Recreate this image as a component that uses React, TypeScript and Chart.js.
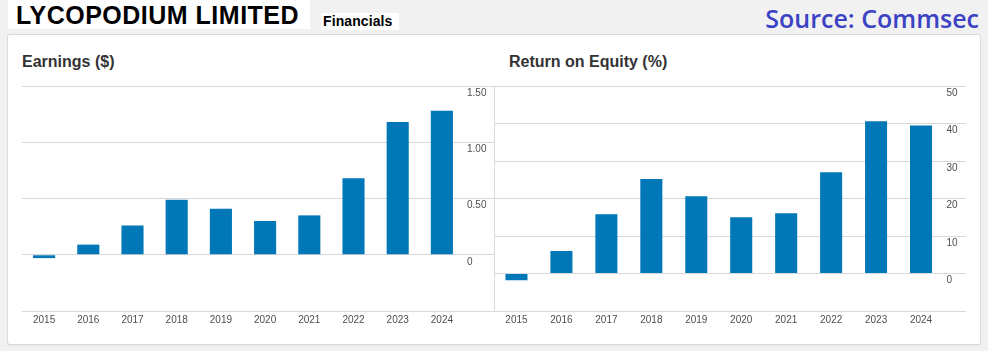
import React, { useEffect, useRef } from "react";
import { Chart, registerables } from "chart.js";
Chart.register(...registerables);

const years = ["2015", "2016", "2017", "2018", "2019", "2020", "2021", "2022", "2023", "2024"];
const earnings = [-0.03, 0.09, 0.26, 0.49, 0.41, 0.3, 0.35, 0.68, 1.18, 1.28];
const roe = [-1.8, 6.0, 15.8, 25.2, 20.6, 15.0, 16.1, 27.0, 40.6, 39.5];
const earningsAxis = { min: -0.5, max: 1.5, step: 0.5 };
const roeAxis = { min: -10, max: 50, step: 10 };

const FONT = '"Liberation Sans", Arial, Helvetica, sans-serif';
const BAR = "#0077b6";
const GRID = "#d9d9d9";
const TICK = "#4d4d4d";

function labelPlugin(fmt: (v: number) => string) {
  return {
    id: "rightLabels",
    afterDraw(chart: any) {
      const y = chart.scales.y;
      const ctx = chart.ctx;
      ctx.save();
      ctx.font = `10px ${FONT}`;
      ctx.fillStyle = TICK;
      ctx.textAlign = "left";
      ctx.textBaseline = "middle";
      y.ticks.forEach((t: any) => {
        if (Math.abs(t.value - y.min) < 1e-9) return;
        ctx.fillText(fmt(t.value), chart.chartArea.right + 3, y.getPixelForValue(t.value) + 7);
      });
      ctx.restore();
    },
  };
}

function BarChart(props: {
  data: number[];
  axis: { min: number; max: number; step: number };
  axisWidth: number;
  barPct: number;
  leftLine: boolean;
  padLeft: number;
  width: number;
  fmt: (v: number) => string;
}) {
  const ref = useRef<HTMLCanvasElement | null>(null);
  useEffect(() => {
    if (!ref.current) return;
    const { data, axis, axisWidth, barPct, leftLine, padLeft, fmt } = props;
    const chart = new Chart(ref.current, {
      type: "bar",
      data: {
        labels: years,
        datasets: [
          {
            data,
            backgroundColor: BAR,
            borderWidth: 0,
            categoryPercentage: 1,
            barPercentage: barPct,
          },
        ],
      },
      options: {
        animation: false,
        responsive: false,
        maintainAspectRatio: false,
        layout: { padding: { top: 10, bottom: 7, left: padLeft, right: 0 } },
        plugins: { legend: { display: false }, tooltip: { enabled: false }, title: { display: false } },
        scales: {
          x: {
            grid: {
              display: leftLine,
              offset: true,
              drawTicks: false,
              color: (c: any) => (c.index === 0 ? GRID : "rgba(0,0,0,0)"),
            },
            border: { display: false },
            ticks: {
              font: { family: FONT, size: 10 },
              color: TICK,
              padding: 3,
              maxRotation: 0,
              autoSkip: false,
            },
          },
          y: {
            position: "right",
            min: axis.min,
            max: axis.max,
            ticks: { stepSize: axis.step, display: false },
            grid: { color: GRID, drawTicks: true, tickLength: axisWidth },
            border: { display: false },
            afterFit(s: any) {
              s.width = axisWidth;
            },
          },
        },
      } as any,
      plugins: [labelPlugin(fmt)],
    });
    return () => chart.destroy();
  }, []);
  return <canvas ref={ref} width={props.width} height={260} style={{ display: "block" }} />;
}

export default function App() {
  useEffect(() => {
    document.body.style.margin = "0";
    document.body.style.background = "#f1f1f1";
  }, []);
  const abs = (s: React.CSSProperties): React.CSSProperties => ({ position: "absolute", ...s });
  return (
    <div style={{ position: "relative", width: 988, height: 351, background: "#f1f1f1", overflow: "hidden", fontFamily: FONT }}>
      <div style={abs({ left: 8, top: 0, width: 302, height: 29, background: "#fff" })} />
      <div
        style={abs({
          left: 16,
          top: 3,
          fontSize: 25,
          lineHeight: "24px",
          fontWeight: "bold",
          color: "#000",
          letterSpacing: "0.5px",
          whiteSpace: "nowrap",
        })}
      >
        LYCOPODIUM LIMITED
      </div>
      <div style={abs({ left: 321, top: 13, width: 78, height: 17, background: "#fff" })} />
      <div
        style={abs({
          left: 323,
          top: 15,
          fontSize: 14,
          lineHeight: "13px",
          fontWeight: "bold",
          color: "#000",
          letterSpacing: "0.1px",
          whiteSpace: "nowrap",
        })}
      >
        Financials
      </div>
      <div
        style={abs({
          right: 9,
          top: 3,
          fontFamily: '"Open Sans", sans-serif',
          fontSize: 25,
          fontWeight: 600,
          lineHeight: "30px",
          color: "#3c42c4",
          whiteSpace: "nowrap",
        })}
      >
        Source: Commsec
      </div>
      <div
        style={abs({
          left: 7,
          top: 34,
          width: 972,
          height: 309,
          background: "#fff",
          border: "1px solid #dadada",
          borderRadius: 3,
          boxShadow: "0 1px 1px rgba(0,0,0,0.05)",
        })}
      />
      <div style={abs({ left: 22, top: 54, fontSize: 16, lineHeight: "16px", fontWeight: "bold", color: "#333", whiteSpace: "nowrap" })}>
        Earnings ($)
      </div>
      <div style={abs({ left: 509, top: 54, fontSize: 16, lineHeight: "16px", fontWeight: "bold", color: "#333", whiteSpace: "nowrap" })}>
        Return on Equity (%)
      </div>
      <div style={abs({ left: 22, top: 76 })}>
        <BarChart
          data={earnings}
          axis={earningsAxis}
          axisWidth={30}
          barPct={0.5}
          leftLine={false}
          padLeft={0}
          width={472}
          fmt={(v) => (Math.abs(v) < 1e-9 ? "0" : v.toFixed(2))}
        />
      </div>
      <div style={abs({ left: 490, top: 76 })}>
        <BarChart
          data={roe}
          axis={roeAxis}
          axisWidth={22.5}
          barPct={0.49}
          leftLine={true}
          padLeft={4}
          width={476}
          fmt={(v) => String(Math.round(v))}
        />
      </div>
    </div>
  );
}
